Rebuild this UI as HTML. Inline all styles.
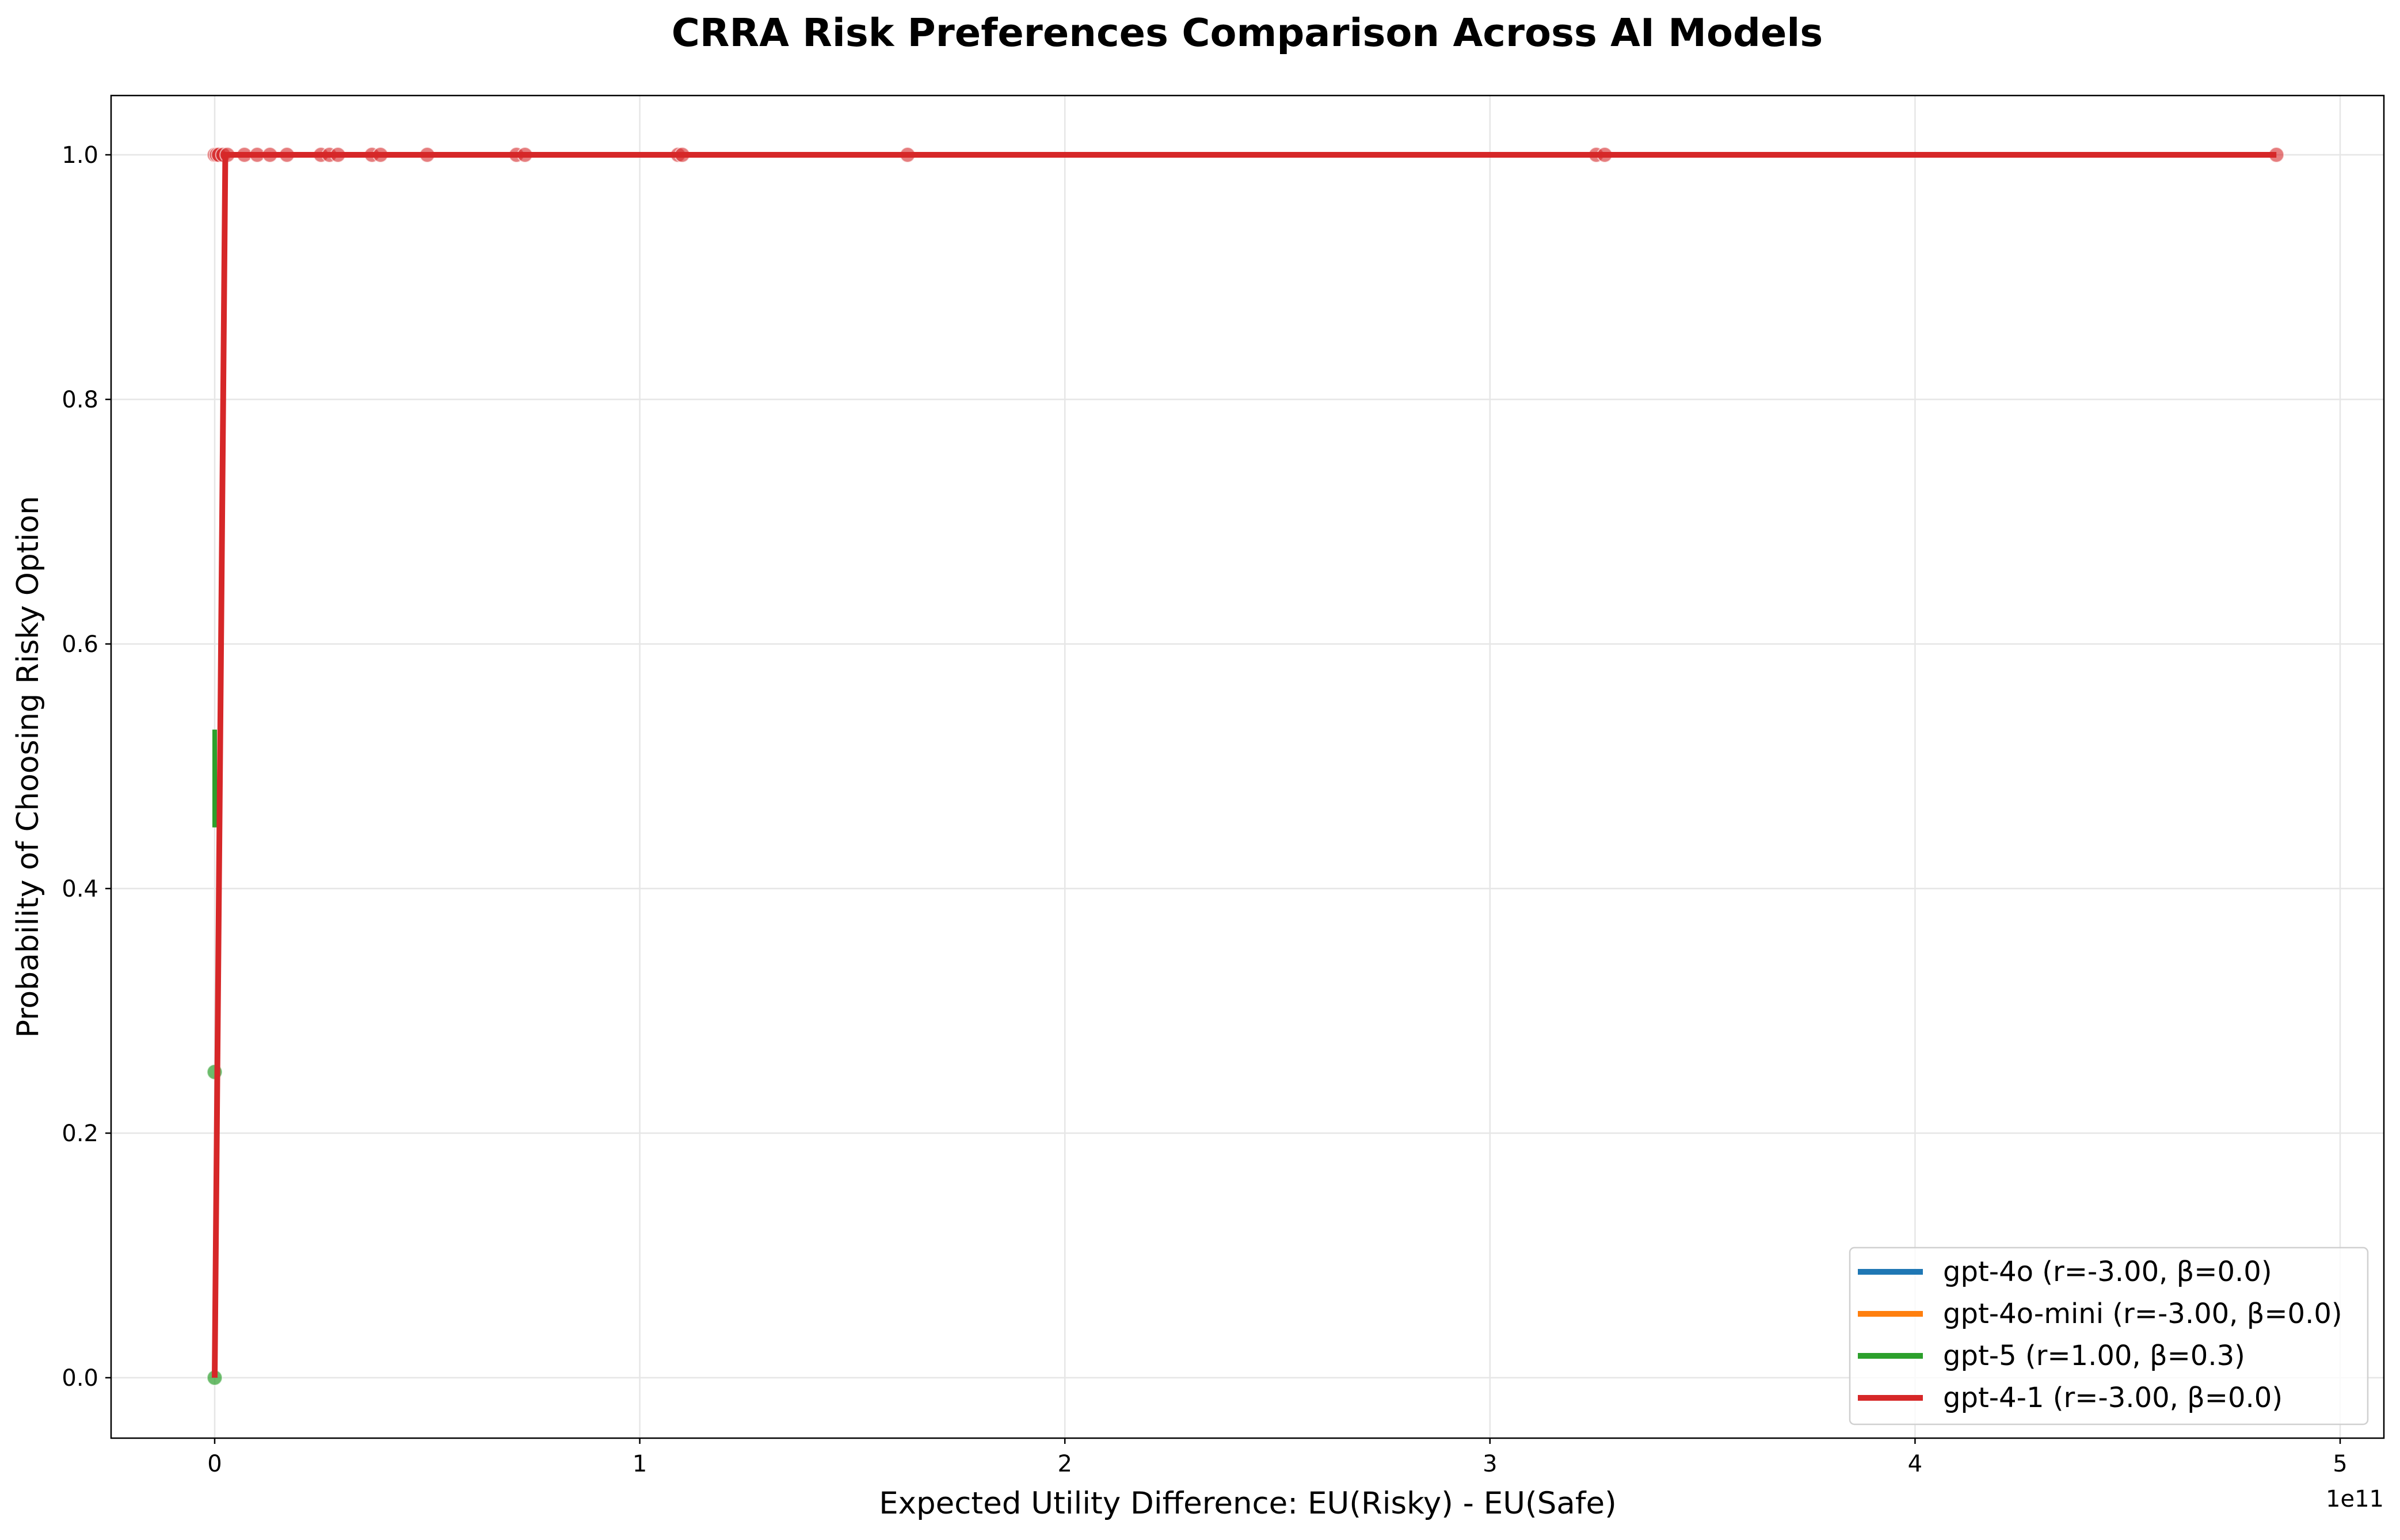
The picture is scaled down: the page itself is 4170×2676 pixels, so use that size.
<!DOCTYPE html>
<html><head><meta charset="utf-8"><style>
html,body{margin:0;padding:0;background:#fff;}
svg text{font-family:"DejaVu Sans","Liberation Sans",sans-serif;}
</style></head><body>
<svg id="chart" width="4170" height="2671" viewBox="0 0 4170 2671" xmlns="http://www.w3.org/2000/svg">
<rect width="4170" height="2671" fill="#fff"/>
<text x="2167" y="80" text-anchor="middle" font-size="67" font-weight="bold">CRRA Risk Preferences Comparison Across AI Models</text>
<g id="grid"></g>
<g id="axes"></g>
<g id="marks"></g>
<g id="legend"></g>
</svg>
<script>
const xTicks=[0,1,2,3,4,5];
const yTicks=[0.0,0.2,0.4,0.6,0.8,1.0];
const yTickLabels=["0.0","0.2","0.4","0.6","0.8","1.0"];
const redDotsX=[0,0.005,0.01,0.02,0.03,0.07,0.1,0.13,0.17,0.25,0.27,0.29,0.37,0.39,0.5,0.71,0.73,1.09,1.1,1.63,3.25,3.27,4.85];
const redDotsY=[1,1,1,1,1,1,1,1,1,1,1,1,1,1,1,1,1,1,1,1,1,1,1];
const redLineX=[0,0.025,4.85];
const redLineY=[0,1,1];
const greenDotsX=[0,0];
const greenDotsY=[0,0.25];
const greenErrX=[0];
const greenErrLo=[0.45];
const greenErrHi=[0.53];
const legendLabels=["gpt-4o (r=-3.00, β=0.0)","gpt-4o-mini (r=-3.00, β=0.0)","gpt-5 (r=1.00, β=0.3)","gpt-4-1 (r=-3.00, β=0.0)"];
const legendColors=["#1f77b4","#ff7f0e","#2ca02c","#d62728"];

const L=193,R=4142,T=166,B=2499;
const X=v=>373+v*738.6;
const Y=v=>2394-v*2125;
const NS="http://www.w3.org/2000/svg";
function mk(tag,attrs,parent){const e=document.createElementNS(NS,tag);for(const k in attrs)e.setAttribute(k,attrs[k]);parent.appendChild(e);return e;}
const grid=document.getElementById('grid'),axes=document.getElementById('axes'),marks=document.getElementById('marks'),leg=document.getElementById('legend');

xTicks.forEach(t=>{
 const g=mk('line',{x1:X(t),x2:X(t),y1:T,y2:B,stroke:'#e6e6e6','stroke-width':2.5},grid);
 
 
 const tk=mk('line',{x1:X(t),x2:X(t),y1:B,y2:B+10,stroke:'#000','stroke-width':2.5},axes);
 
 
 const tx=mk('text',{x:X(t),y:B+58,'text-anchor':'middle','font-size':40},axes);
 tx.textContent=String(t);
 
 
});
yTicks.forEach((t,i)=>{
 const g=mk('line',{x1:L,x2:R,y1:Y(t),y2:Y(t),stroke:'#e6e6e6','stroke-width':2.5},grid);
 
 
 const tk=mk('line',{x1:L-10,x2:L,y1:Y(t),y2:Y(t),stroke:'#000','stroke-width':2.5},axes);
 
 
 const tx=mk('text',{x:L-22,y:Y(t)+14,'text-anchor':'end','font-size':40},axes);
 tx.textContent=yTickLabels[i];
 
 
});
const fr=mk('rect',{x:L,y:T,width:R-L,height:B-T,fill:'none',stroke:'#000','stroke-width':2.5},axes);


const xl=mk('text',{x:2168,y:2630,'text-anchor':'middle','font-size':53},axes);
xl.textContent='Expected Utility Difference: EU(Risky) - EU(Safe)';


const yl=mk('text',{x:0,y:0,'text-anchor':'middle','font-size':52,transform:`translate(66,${(T+B)/2}) rotate(-90)`},axes);
yl.textContent='Probability of Choosing Risky Option';


const ex=mk('text',{x:R,y:2618,'text-anchor':'end','font-size':40},axes);
ex.textContent='1e11';



greenErrX.forEach((v,i)=>{
 const e=mk('line',{x1:X(v),x2:X(v),y1:Y(greenErrLo[i]),y2:Y(greenErrHi[i]),stroke:'#2ca02c','stroke-width':8},marks);
 
 
});
greenDotsX.forEach((v,i)=>{
 const c=mk('ellipse',{cx:X(v),cy:Y(greenDotsY[i]),rx:13,ry:13,fill:'#2ca02c','fill-opacity':0.7,stroke:'#fff','stroke-opacity':0.5,'stroke-width':2},marks);
 
 
});
redDotsX.forEach((v,i)=>{
 const c=mk('circle',{cx:X(v),cy:Y(redDotsY[i]),r:13,fill:'#d62728','fill-opacity':0.6,stroke:'#fff','stroke-opacity':0.6,'stroke-width':2},marks);
 
 
});
const pl=mk('polyline',{points:redLineX.map((v,i)=>X(v)+','+Y(redLineY[i])).join(' '),fill:'none',stroke:'#d62728','stroke-width':10,'stroke-linejoin':'miter'},marks);



const lb=mk('rect',{x:3214,y:2168,width:900,height:307,rx:8,fill:'#fff','fill-opacity':0.8,stroke:'#d0d0d0','stroke-width':2.5},leg);


legendLabels.forEach((s,i)=>{
 const y=2210+i*73;
 const h=mk('line',{x1:3228,x2:3341,y1:y,y2:y,stroke:legendColors[i],'stroke-width':10},leg);
 
 
 const t=mk('text',{x:3376,y:y+16,'font-size':48},leg);
 t.textContent=s;
 
 
});
</script>
</body></html>
